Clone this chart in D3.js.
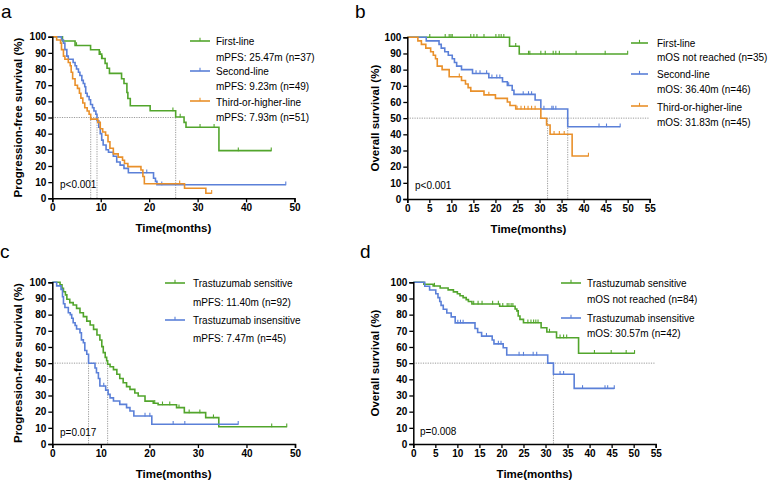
<!DOCTYPE html>
<html><head><meta charset="utf-8">
<script src="https://cdn.jsdelivr.net/npm/d3@7"></script>
<style>body{margin:0;background:#fff} svg{display:block} text{font-family:"Liberation Sans",Arial,sans-serif}</style>
</head><body>
<svg id="c" width="768" height="481"></svg>
<script>
// ---------- Panel a: PFS by line ----------
const aFirstT = [0, 2.1, 4.7, 7.9, 9.7, 10.2, 10.9, 11.3, 11.8, 14.3, 14.8, 15.4, 15.6, 16.1, 20.2, 25.47, 27.2, 27.6, 34.4, 45.2];
const aFirstS = [100, 97.3, 94.6, 91.9, 89.2, 86.5, 83.5, 80.5, 77.3, 74.0, 71.0, 65.5, 61.8, 57.3, 54.2, 50.3, 47.0, 44.0, 29.5, 29.5];
const aFirstC = [5.0, 9.9, 10.3, 24.9, 26.4, 30.5, 33.4, 38.4, 45.2];
const aSecondT = [0, 1.9, 2.3, 2.6, 3.0, 3.3, 4.3, 4.7, 5.0, 5.4, 5.7, 6.1, 6.4, 6.7, 6.9, 7.2, 7.6, 7.9, 8.3, 8.6, 9.0, 9.23, 9.6, 9.9, 10.2, 10.5, 11.1, 11.6, 12.6, 13.3, 14.0, 14.8, 15.7, 20.9, 21.3, 21.6, 48.2];
const aSecondS = [100, 98, 96, 92, 88, 86, 84, 82, 80, 78, 76, 73, 71, 69, 65, 63, 61, 58, 56, 54, 52, 48, 44, 40, 36, 33, 30, 28.5, 26, 22.5, 20.5, 18.5, 15.8, 12.4, 10.5, 8.4, 8.4];
const aSecondC = [19.5, 22.6, 48.2];
const aThirdT = [0, 0.9, 1.7, 1.9, 2.3, 2.6, 3.3, 3.7, 3.9, 4.2, 4.7, 5.2, 5.6, 5.9, 6.3, 6.7, 7.2, 7.6, 7.93, 9.4, 9.9, 10.4, 11.0, 11.5, 11.9, 12.6, 13.6, 14.5, 14.9, 15.6, 18.3, 18.7, 19.0, 27.3, 31.7, 32.9];
const aThirdS = [100, 98, 96, 92, 88, 86, 84, 82, 78, 74, 70, 68, 65, 62, 59, 56, 54, 52, 49, 47, 43, 41, 39, 35, 31, 27.5, 25.5, 23.5, 21.5, 19.6, 17.5, 13.5, 9.0, 6.2, 3.1, 3.1];
const aThirdC = [26.3, 32.9];
const aMedians = [7.93, 9.23, 25.47];
const aLegend = ["First-line", "mPFS: 25.47m (n=37)", "Second-line", "mPFS: 9.23m (n=49)", "Third-or-higher-line", "mPFS: 7.93m (n=51)"];

// ---------- Panel b: OS by line ----------
const bFirstT = [0, 23.2, 25.4, 50.0];
const bFirstS = [100, 94.5, 89.7, 89.7];
const bFirstC = [5.1, 8.6, 9.5, 9.9, 10.2, 14.4, 15.1, 15.8, 17.4, 20.1, 20.8, 21.3, 21.9, 24.6, 27.5, 27.8, 30.3, 31.3, 33.1, 33.7, 34.5, 38.3, 44.9, 50.0];
const bSecondT = [0, 4.3, 7.2, 7.7, 8.5, 9.3, 10.2, 10.7, 11.2, 12.3, 14.8, 18.5, 21.6, 22.7, 23.8, 24.2, 29.0, 30.3, 36.4, 48.3];
const bSecondS = [100, 97.8, 95.6, 93.3, 91.1, 88.9, 86.7, 84.4, 82.2, 80.0, 77.6, 75.0, 72.5, 70.2, 67.3, 64.7, 61.2, 55.7, 44.7, 44.7];
const bSecondC = [15.6, 16.5, 18.0, 19.2, 20.3, 21.0, 23.0, 26.3, 27.5, 28.2, 31.0, 32.8, 33.1, 33.7, 43.5, 45.2, 48.3];
const bThirdT = [0, 2.4, 3.2, 4.2, 5.3, 5.9, 6.4, 6.8, 7.9, 9.5, 12.3, 13.2, 13.8, 14.4, 17.4, 20.0, 22.7, 23.3, 24.6, 30.3, 31.6, 32.4, 37.4, 41.1];
const bThirdS = [100, 97.8, 95.6, 93.3, 91.1, 88.9, 86.7, 82.2, 80.0, 75.6, 73.3, 71.1, 68.9, 66.7, 64.4, 62.2, 60.0, 57.8, 55.7, 49.9, 45.8, 40.0, 26.6, 26.6];
const bThirdC = [11.8, 18.5, 24.9, 25.8, 26.6, 27.4, 28.2, 29.0, 33.3, 34.5, 35.6, 41.1];
const bMedians = [31.83, 36.40];
const bLegend = ["First-line", "mOS not reached (n=35)", "Second-line", "mOS: 36.40m (n=46)", "Third-or-higher-line", "mOS: 31.83m (n=45)"];

// ---------- Panel c: PFS by trastuzumab sensitivity ----------
const cSensT = [0, 1.6, 2.0, 2.3, 2.7, 3.0, 3.6, 4.3, 5.0, 5.7, 6.4, 7.1, 7.8, 8.5, 9.2, 9.8, 10.2, 10.5, 10.9, 11.2, 11.4, 11.9, 12.6, 13.3, 13.9, 14.6, 15.3, 16.0, 17.0, 17.7, 19.1, 20.8, 21.8, 25.6, 27.2, 31.6, 34.3, 48.3];
const cSensS = [100, 98.4, 96.3, 94.2, 92.2, 89.5, 87.4, 86.0, 83.9, 81.2, 78.8, 76.0, 73.6, 70.9, 67.4, 64.3, 60.2, 56.5, 53.6, 51.5, 49.3, 47.8, 46.0, 43.1, 40.5, 37.9, 35.5, 33.8, 31.5, 29.7, 26.5, 25.2, 24.3, 22.5, 19.4, 16.3, 10.7, 10.7];
const cSensC = [21.1, 22.7, 24.2, 26.1, 28.2, 30.4, 33.2, 45.2, 48.3];
const cInsT = [0, 0.9, 1.8, 2.1, 2.3, 2.6, 3.3, 3.7, 4.0, 4.3, 4.7, 5.0, 5.7, 6.0, 6.4, 6.7, 7.1, 7.47, 8.8, 9.1, 9.5, 9.8, 11.0, 11.5, 11.9, 12.6, 13.9, 15.3, 16.0, 16.8, 20.5, 38.3];
const cInsS = [100, 97.8, 95.6, 91.1, 86.7, 84.4, 81.2, 80.0, 77.8, 75.0, 73.3, 71.1, 68.8, 64.4, 62.6, 57.8, 55.5, 49.9, 47.0, 44.1, 40.5, 35.9, 33.3, 30.7, 28.5, 26.6, 24.5, 22.5, 20.4, 17.3, 12.2, 12.2];
const cInsC = [10.6, 19.1, 20.1, 24.9, 27.3, 38.3];
const cMedians = [7.47, 11.40];
const cLegend = ["Trastuzumab sensitive", "mPFS: 11.40m (n=92)", "Trastuzumab insensitive", "mPFS: 7.47m (n=45)"];

// ---------- Panel d: OS by trastuzumab sensitivity ----------
const dSensT = [0, 2.4, 4.5, 6.1, 7.9, 9.1, 10.0, 10.6, 11.3, 12.0, 12.5, 13.3, 19.6, 23.1, 23.5, 23.8, 24.2, 25.0, 29.0, 30.3, 32.5, 37.5, 50.2];
const dSensS = [100, 98.8, 97.7, 96.5, 95.3, 94.1, 92.9, 91.7, 90.5, 89.3, 88.1, 86.6, 85.2, 83.5, 82.3, 79.2, 77.1, 75.0, 71.9, 69.3, 65.7, 56.1, 56.1];
const dSensC = [4.8, 13.7, 14.7, 15.6, 18.0, 19.3, 20.3, 21.3, 21.7, 22.2, 22.6, 26.0, 26.7, 27.3, 27.8, 28.3, 30.9, 33.3, 34.1, 34.8, 41.1, 44.9, 48.3, 50.2];
const dInsT = [0, 2.6, 3.7, 5.1, 5.6, 6.0, 6.3, 6.8, 7.6, 8.6, 9.5, 14.0, 14.6, 15.5, 17.9, 18.3, 20.4, 21.2, 30.5, 31.8, 36.5, 45.6];
const dInsS = [100, 97.6, 95.2, 92.9, 90.5, 88.1, 85.7, 83.3, 81.0, 78.6, 74.9, 71.4, 69.0, 66.7, 64.3, 61.9, 59.5, 55.0, 50.0, 43.1, 34.4, 34.4];
const dInsC = [10.1, 10.7, 11.3, 16.6, 19.3, 19.9, 24.0, 25.0, 27.2, 28.0, 33.3, 34.1, 38.4, 43.5, 44.1, 45.6];
const dMedians = [31.8];   // dotted drop line as drawn in the figure (reported median 30.57m)
const dLegend = ["Trastuzumab sensitive", "mOS not reached (n=84)", "Trastuzumab insensitive", "mOS: 30.57m (n=42)"];

const xTicksPFS = [0, 10, 20, 30, 40, 50];
const xTicksOS = [0, 5, 10, 15, 20, 25, 30, 35, 40, 45, 50, 55];
const yTicks = [0, 10, 20, 30, 40, 50, 60, 70, 80, 90, 100];

// ---------- drawing ----------
const GREEN = "#52a52c", BLUE = "#5b80d8", ORANGE = "#e9902a";
const svg = d3.select("#c");

function survAt(T, S, t) {
  let v = S[0];
  for (let i = 0; i < T.length; i++) { if (T[i] <= t) v = S[i]; }
  return v;
}

function panel(cfg) {
  const g = svg.append("g");
  const x = d3.scaleLinear().domain([0, cfg.xmax]).range([cfg.x0, cfg.x1]);
  const y = d3.scaleLinear().domain([0, 100]).range([cfg.y1, cfg.y0]);

  const dot = sel => sel.attr("stroke", "#808080").attr("stroke-width", 0.8).attr("stroke-dasharray", "1.2,1.2").attr("fill", "none");
  g.append("line").attr("x1", x(0)).attr("x2", x(cfg.hEnd)).attr("y1", y(50)).attr("y2", y(50)).call(dot);
  cfg.medians.forEach(m => {
    g.append("line").attr("x1", x(m)).attr("x2", x(m)).attr("y1", y(50)).attr("y2", y(0)).call(dot);
  });

  const line = d3.line().x(d => x(d[0])).y(d => y(d[1])).curve(d3.curveStepAfter);
  cfg.series.forEach(s => {
    const pts = s.T.map((t, i) => [t, s.S[i]]);
    g.append("path").attr("d", line(pts)).attr("fill", "none").attr("stroke", s.color).attr("stroke-width", 1.6);
    s.C.forEach(ct => {
      const v = survAt(s.T, s.S, ct);
      g.append("line").attr("x1", x(ct)).attr("x2", x(ct)).attr("y1", y(v) - 3.2).attr("y2", y(v) + 0.5)
        .attr("stroke", s.color).attr("stroke-width", 1.1);
    });
  });

  const ax = g.append("g").attr("transform", `translate(0,${cfg.y1})`)
    .call(d3.axisBottom(x).tickValues(cfg.xticks).tickSize(4).tickPadding(2).tickFormat(d3.format("d")));
  const ay = g.append("g").attr("transform", `translate(${cfg.x0},0)`)
    .call(d3.axisLeft(y).tickValues(yTicks).tickSize(4).tickPadding(2).tickFormat(d3.format("d")));
  [ax, ay].forEach(a => {
    a.select(".domain").attr("stroke", "#000").attr("stroke-width", 1.5);
    a.selectAll(".tick line").attr("stroke", "#000").attr("stroke-width", 1.3);
    a.selectAll(".tick text").attr("fill", "#000").attr("font-size", 10).attr("font-weight", "bold")
      .attr("font-family", '"Liberation Sans",Arial,sans-serif');
  });

  g.append("text").attr("x", (cfg.x0 + cfg.x1) / 2).attr("y", cfg.y1 + 34).attr("text-anchor", "middle")
    .attr("font-size", 11.5).attr("font-weight", "bold").text("Time(months)");
  g.append("text").attr("transform", `translate(${cfg.ytx},${(cfg.y0 + cfg.y1) / 2}) rotate(-90)`)
    .attr("text-anchor", "middle").attr("font-size", 11.5).attr("font-weight", "bold").text(cfg.ytitle);
  g.append("text").attr("x", cfg.letterX).attr("y", cfg.letterY).attr("font-size", 19).text(cfg.letter);
  g.append("text").attr("x", cfg.pX).attr("y", cfg.pY).attr("font-size", 10).text(cfg.p);

  cfg.series.forEach((s, i) => {
    const ly = cfg.legY[i];
    g.append("line").attr("x1", cfg.legX1).attr("x2", cfg.legX2).attr("y1", ly).attr("y2", ly)
      .attr("stroke", s.color).attr("stroke-width", 1.6);
    const mx = (cfg.legX1 + cfg.legX2) / 2;
    g.append("line").attr("x1", mx).attr("x2", mx).attr("y1", ly - 3.2).attr("y2", ly).attr("stroke", s.color).attr("stroke-width", 1.1);
  });
  cfg.legend.forEach((t, i) => {
    g.append("text").attr("x", cfg.legTX).attr("y", cfg.legTY[i] + 3.6).attr("font-size", 10).text(t);
  });
}

panel({
  xmax: 50, x0: 52.3, x1: 294.5, y0: 36.7, y1: 198.3, xticks: xTicksPFS, hEnd: aMedians[2], medians: aMedians,
  series: [
    {T: aFirstT, S: aFirstS, C: aFirstC, color: GREEN},
    {T: aSecondT, S: aSecondS, C: aSecondC, color: BLUE},
    {T: aThirdT, S: aThirdS, C: aThirdC, color: ORANGE}
  ],
  ytitle: "Progression-free survival (%)", ytx: 22, letter: "a", letterX: 1, letterY: 17.5, p: "p<0.001", pX: 60, pY: 187.5,
  legX1: 190, legX2: 210, legY: [41, 71, 101], legTX: 216, legTY: [41, 57, 71, 86, 102, 117], legend: aLegend
});

panel({
  xmax: 55, x0: 407.3, x1: 649.7, y0: 37.3, y1: 199, xticks: xTicksOS, hEnd: 55, medians: bMedians,
  series: [
    {T: bFirstT, S: bFirstS, C: bFirstC, color: GREEN},
    {T: bSecondT, S: bSecondS, C: bSecondC, color: BLUE},
    {T: bThirdT, S: bThirdS, C: bThirdC, color: ORANGE}
  ],
  ytitle: "Overall survival (%)", ytx: 379, letter: "b", letterX: 355, letterY: 17.5, p: "p<0.001", pX: 415, pY: 188.5,
  legX1: 631, legX2: 648, legY: [43, 74, 106], legTX: 657, legTY: [43, 57, 74, 89, 107, 122], legend: bLegend
});

panel({
  xmax: 50, x0: 52.3, x1: 295, y0: 282.3, y1: 444, xticks: xTicksPFS, hEnd: cMedians[1], medians: cMedians,
  series: [
    {T: cSensT, S: cSensS, C: cSensC, color: GREEN},
    {T: cInsT, S: cInsS, C: cInsC, color: BLUE}
  ],
  ytitle: "Progression-free survival (%)", ytx: 22, letter: "c", letterX: 0, letterY: 258, p: "p=0.017", pX: 60, pY: 435.5,
  legX1: 165, legX2: 185, legY: [283, 320], legTX: 193, legTY: [283, 302, 320, 338], legend: cLegend
});

panel({
  xmax: 55, x0: 413.3, x1: 655.7, y0: 282.3, y1: 444, xticks: xTicksOS, hEnd: 55, medians: dMedians,
  series: [
    {T: dSensT, S: dSensS, C: dSensC, color: GREEN},
    {T: dInsT, S: dInsS, C: dInsC, color: BLUE}
  ],
  ytitle: "Overall survival (%)", ytx: 379, letter: "d", letterX: 360, letterY: 258, p: "p=0.008", pX: 420, pY: 434.5,
  legX1: 561, legX2: 581, legY: [283, 318], legTX: 587, legTY: [283, 299, 318, 333], legend: dLegend
});
</script>
</body></html>
